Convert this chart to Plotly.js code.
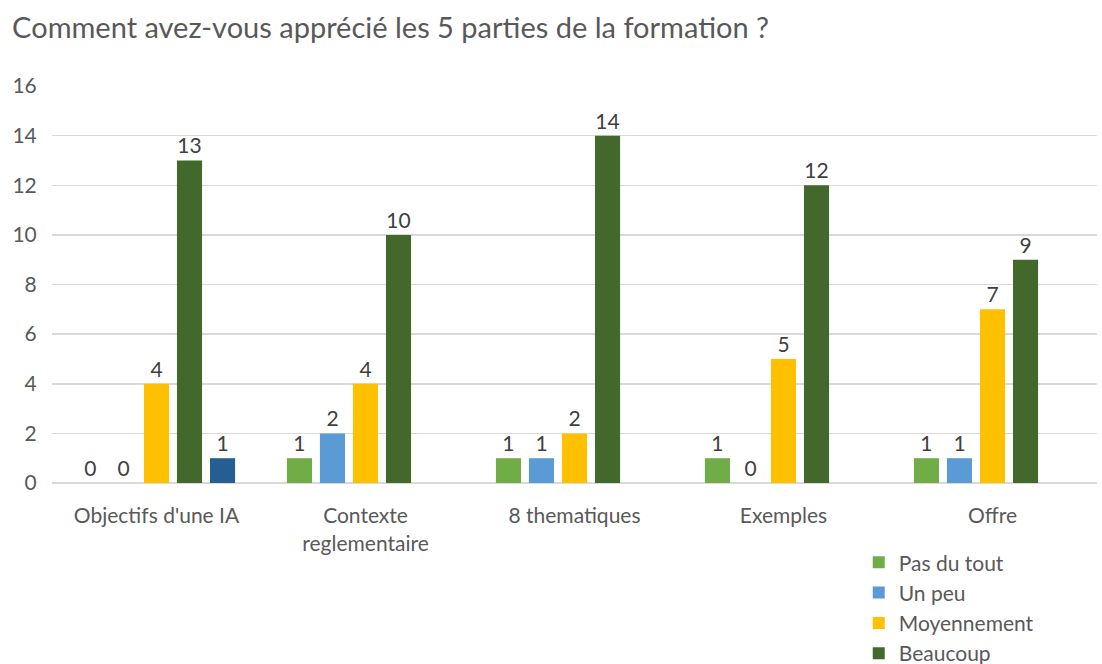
<!DOCTYPE html>
<html>
<head>
<meta charset="utf-8">
<script src="https://cdn.plot.ly/plotly-3.0.1.min.js"></script>
<style>html,body{margin:0;padding:0;background:#fff;}#chart{width:1102px;height:664px;}</style>
</head>
<body>
<div id="chart"></div>
<script>
const categories = ["Objectifs d'une IA", "Contexte<br>reglementaire", "8 thematiques", "Exemples", "Offre"];
const pasDuTout = [0, 1, 1, 1, 1];
const unPeu = [0, 2, 1, 0, 1];
const moyennement = [4, 4, 2, 5, 7];
const beaucoup = [13, 10, 14, 12, 9];
const serie5 = [1, null, null, null, null];
const seriesNames = ["Pas du tout", "Un peu", "Moyennement", "Beaucoup", "Série 5"];
const seriesColors = ["#70AD47", "#5B9BD5", "#FFC000", "#43682B", "#255E91"];
const yTicks = [0, 2, 4, 6, 8, 10, 12, 14, 16];

const allSeries = [pasDuTout, unPeu, moyennement, beaucoup, serie5];
const font = "Lato, 'Liberation Sans', sans-serif";
const traces = allSeries.map((vals, i) => ({
  type: 'bar',
  x: categories,
  y: vals,
  name: seriesNames[i],
  marker: {color: seriesColors[i]},
  text: vals.map(v => v === null ? '' : String(v)),
  textposition: 'outside',
  cliponaxis: false,
  textfont: {family: font, size: 21, color: '#404040'},
  showlegend: i < 4
}));

const layout = {
  width: 1102, height: 664,
  paper_bgcolor: '#fff', plot_bgcolor: '#fff',
  margin: {l: 52, r: 5, t: 86, b: 181, autoexpand: false},
  barmode: 'group',
  bargap: 0.21,
  bargroupgap: 0.24,
  title: {text: 'Comment avez-vous apprécié les 5 parties de la formation ?', x: 0.011, xanchor: 'left', y: 0.958, yanchor: 'middle',
    font: {family: font, size: 29, color: '#595959'}},
  font: {family: font, color: '#595959'},
  xaxis: {tickfont: {family: font, size: 21, color: '#595959'}, showgrid: false, showline: false, zeroline: false,
    ticks: 'outside', ticklen: 14, tickcolor: 'rgba(0,0,0,0)', automargin: false},
  yaxis: {range: [0, 16], tickvals: yTicks, ticktext: yTicks.map(String), showgrid: true, gridcolor: '#d9d9d9', gridwidth: 1.5,
    zeroline: true, zerolinecolor: '#d9d9d9', zerolinewidth: 1.5,
    tickfont: {family: font, size: 21, color: '#595959'}, ticks: 'outside', ticklen: 10, tickcolor: 'rgba(0,0,0,0)', automargin: false},
  legend: {x: 0.772, xanchor: 'left', y: -0.149, yanchor: 'top', orientation: 'v',
    font: {family: font, size: 21, color: '#595959'}, itemwidth: 30, tracegroupgap: 0, bgcolor: 'rgba(0,0,0,0)'},
  showlegend: true
};
Plotly.newPlot('chart', traces, layout, {displayModeBar: false, staticPlot: true});
</script>
</body>
</html>
